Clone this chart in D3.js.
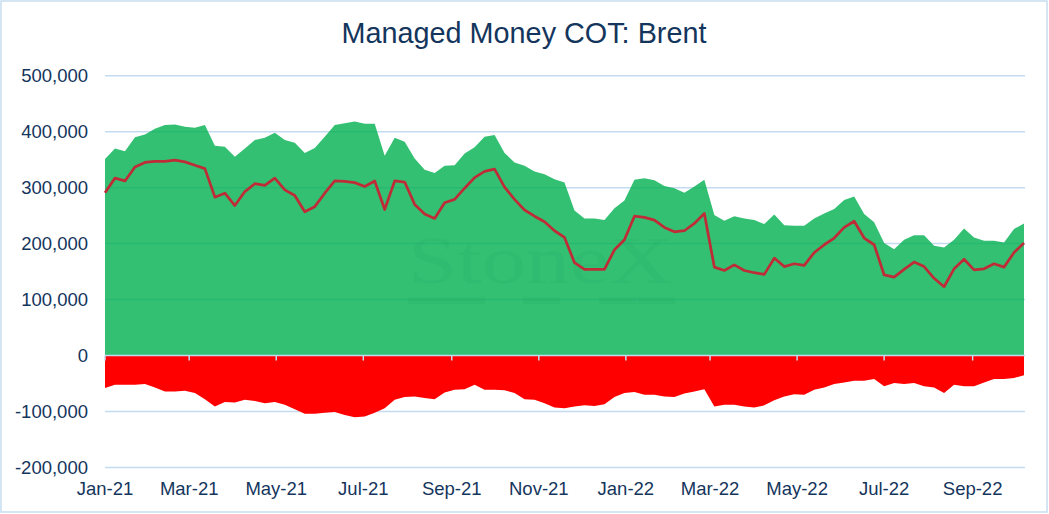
<!DOCTYPE html>
<html>
<head>
<meta charset="utf-8">
<script src="https://cdn.jsdelivr.net/npm/d3@7"></script>
<style>
  body { margin: 0; background: #fff; }
  svg { display: block; font-family: "Liberation Sans", Arial, sans-serif; }
</style>
</head>
<body>
<svg id="chart" width="1049" height="514"></svg>
<script>
// weekly managed money positions, thousands of contracts
var firstWeek = new Date(2021, 0, 5);

var longPos = [351, 370, 365, 390, 395, 405, 412, 413, 409, 407, 412, 375, 373, 355, 370, 385,
  389, 398, 385, 380, 362, 371, 391, 412, 415, 418, 414, 414, 357, 389, 382, 352,
  332, 326, 339, 340, 361, 372, 391, 394, 362, 345, 339, 329, 324, 315, 309, 259,
  245, 245, 242, 263, 277, 314, 317, 313, 303, 299, 291, 302, 314, 251, 241, 249,
  245, 242, 235, 252, 233, 232, 232, 245, 254, 262, 278, 284, 253, 238, 201, 190,
  207, 215, 215, 196, 193, 207, 227, 211, 205, 205, 202, 226, 236];

var shortPos = [-58, -52, -52, -52, -51, -57, -64, -64, -63, -67, -78, -91, -83, -84, -79, -81,
  -85, -83, -88, -96, -104, -104, -102, -101, -106, -110, -109, -102, -94, -79, -74, -73,
  -76, -78, -66, -61, -60, -52, -61, -61, -62, -67, -78, -79, -85, -93, -94, -91,
  -89, -90, -87, -74, -67, -65, -70, -70, -73, -74, -68, -64, -60, -91, -88, -88,
  -91, -93, -89, -80, -73, -69, -70, -61, -57, -51, -48, -45, -45, -42, -55, -49,
  -51, -49, -55, -57, -67, -52, -55, -55, -48, -42, -42, -40, -35];

var netPos = [291, 317, 312, 337, 345, 347, 347, 349, 346, 340, 334, 283, 290, 268, 293, 307,
  304, 317, 296, 286, 257, 266, 290, 312, 311, 309, 302, 312, 261, 312, 310, 270,
  253, 245, 273, 279, 299, 318, 329, 333, 301, 279, 260, 249, 239, 223, 211, 166,
  154, 154, 154, 189, 207, 249, 247, 242, 229, 221, 223, 236, 254, 158, 152, 162,
  152, 148, 145, 174, 159, 164, 161, 184, 198, 210, 229, 240, 210, 198, 144, 140,
  154, 167, 159, 138, 123, 155, 172, 153, 155, 164, 158, 184, 201];

var yTicks = [-200000, -100000, 0, 100000, 200000, 300000, 400000, 500000];
var xTickMonths = [0, 2, 4, 6, 8, 10, 12, 14, 16, 18, 20]; // every 2 months from Jan-21

var rows = longPos.map(function(v, i) {
  return {
    date: d3.timeDay.offset(firstWeek, 7 * i),
    long: v * 1000,
    short: shortPos[i] * 1000,
    net: netPos[i] * 1000
  };
});

var svg = d3.select('#chart');
var navy = '#14355c';
var gridBlue = '#c3dbf0';

var x = d3.scaleTime()
  .domain([firstWeek, rows[rows.length - 1].date])
  .range([105, 1024]);

var y = d3.scaleLinear()
  .domain([-200000, 500000])
  .range([467.5, 75.7]);

// chart border
svg.append('rect')
  .attr('x', 1).attr('y', 1)
  .attr('width', 1046).attr('height', 511)
  .attr('fill', 'none')
  .attr('stroke', '#c6ddf1')
  .attr('stroke-width', 1.5);

svg.append('text')
  .attr('x', 524)
  .attr('y', 43)
  .attr('text-anchor', 'middle')
  .attr('font-size', 28.8)
  .attr('fill', navy)
  .text('Managed Money COT: Brent');

// gridlines
svg.append('g')
  .selectAll('line')
  .data(yTicks.filter(function(t) { return t !== 0; }))
  .enter().append('line')
  .attr('x1', 105).attr('x2', 1025)
  .attr('y1', function(d) { return y(d); })
  .attr('y2', function(d) { return y(d); })
  .attr('stroke', gridBlue)
  .attr('stroke-width', 1.5);

svg.append('g')
  .selectAll('text')
  .data(yTicks)
  .enter().append('text')
  .attr('x', 88)
  .attr('y', function(d) { return y(d); })
  .attr('dy', '0.36em')
  .attr('text-anchor', 'end')
  .attr('font-size', 18.5)
  .attr('fill', navy)
  .text(function(d) { return d3.format(',')(d).replace('−', '-'); });

// long positions
var longArea = d3.area()
  .x(function(d) { return x(d.date); })
  .y0(y(0))
  .y1(function(d) { return y(d.long); });

svg.append('path')
  .datum(rows)
  .attr('d', longArea)
  .attr('fill', '#00b050')
  .attr('fill-opacity', 0.8);

// watermark
var mark = svg.append('g').attr('fill', 'rgb(20,140,75)').attr('opacity', 0.07);
mark.append('text')
  .attr('x', 408)
  .attr('y', 283)
  .attr('font-family', '"Liberation Serif", "Times New Roman", serif')
  .attr('font-size', 68)
  .attr('textLength', 265)
  .attr('lengthAdjust', 'spacingAndGlyphs')
  .text('StoneX');
[[408, 485], [523, 560], [599, 636], [637, 675]].forEach(function(s) {
  mark.append('rect')
    .attr('x', s[0]).attr('y', 297)
    .attr('width', s[1] - s[0]).attr('height', 7);
});

// short positions
var shortArea = d3.area()
  .x(function(d) { return x(d.date); })
  .y0(y(0))
  .y1(function(d) { return y(d.short); });

svg.append('path')
  .datum(rows)
  .attr('d', shortArea)
  .attr('fill', '#ff0000');

// zero axis with ticks
var tickDates = xTickMonths.map(function(m) { return new Date(2021, m, 5); });

svg.append('line')
  .attr('x1', 105).attr('x2', 1025)
  .attr('y1', y(0)).attr('y2', y(0))
  .attr('stroke', gridBlue)
  .attr('stroke-width', 1.5);

svg.append('g')
  .selectAll('line')
  .data(tickDates)
  .enter().append('line')
  .attr('x1', function(d) { return x(d); })
  .attr('x2', function(d) { return x(d); })
  .attr('y1', y(0))
  .attr('y2', y(0) + 5)
  .attr('stroke', gridBlue)
  .attr('stroke-width', 1.5);

svg.append('g')
  .selectAll('text')
  .data(tickDates)
  .enter().append('text')
  .attr('x', function(d) { return x(d); })
  .attr('y', 495)
  .attr('text-anchor', 'middle')
  .attr('font-size', 18.5)
  .attr('fill', navy)
  .text(function(d) { return d3.timeFormat('%b-%y')(d); });

// net position line
var netLine = d3.line()
  .x(function(d) { return x(d.date); })
  .y(function(d) { return y(d.net); });

svg.append('path')
  .datum(rows)
  .attr('d', netLine)
  .attr('fill', 'none')
  .attr('stroke', '#be2d37')
  .attr('stroke-width', 2.75)
  .attr('stroke-linejoin', 'round');
</script>
</body>
</html>
